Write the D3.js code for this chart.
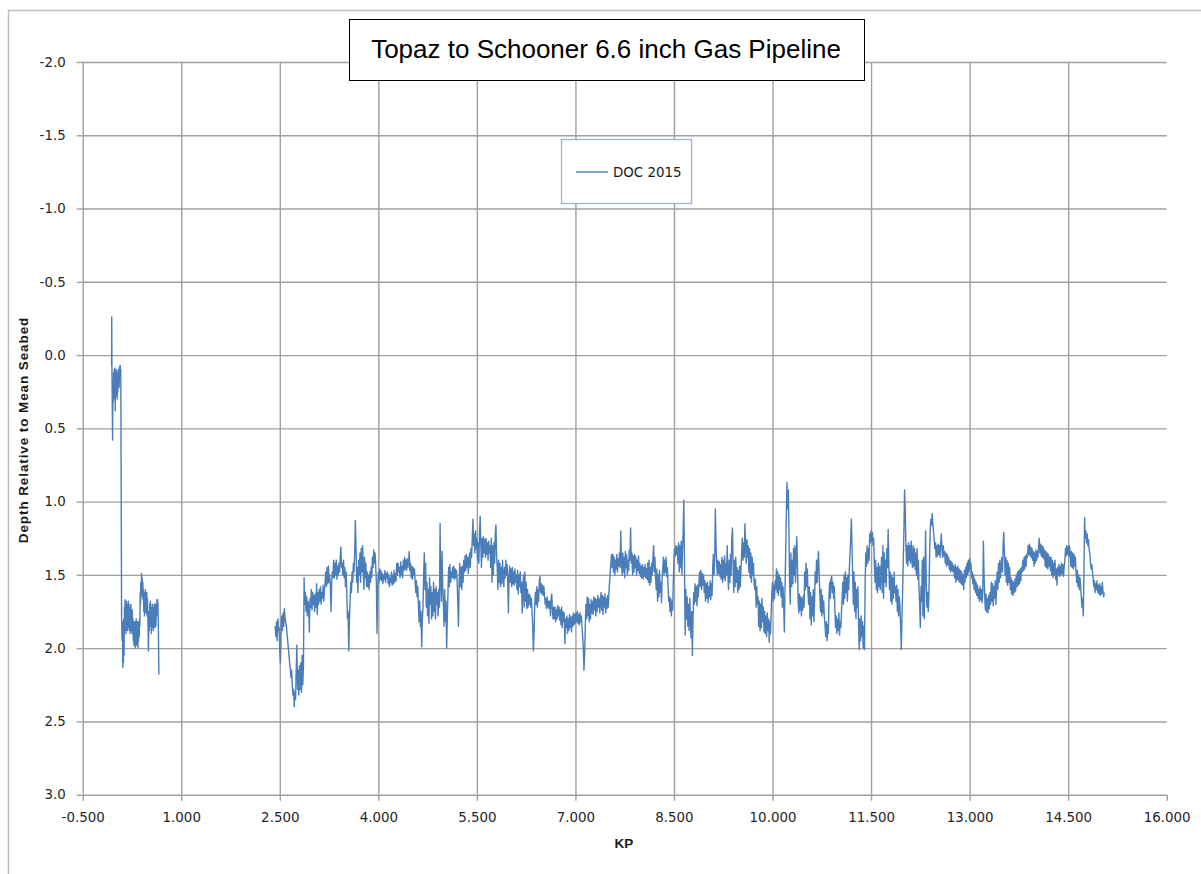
<!DOCTYPE html>
<html>
<head>
<meta charset="utf-8">
<script src="https://cdn.jsdelivr.net/npm/d3@7"></script>
<style>
  body { margin: 0; background: #fff; }
  svg { display: block; font-family: "Liberation Sans", Arial, sans-serif; }
</style>
</head>
<body>
<div id="chart"></div>
<script>
const titleText = "Topaz to Schooner 6.6 inch Gas Pipeline";
const seriesName = "DOC 2015";
const xTicks = [-0.5, 1, 2.5, 4, 5.5, 7, 8.5, 10, 11.5, 13, 14.5, 16];
const yTicks = [-2, -1.5, -1, -0.5, 0, 0.5, 1, 1.5, 2, 2.5, 3];

// [KP, depth] - shore end section
const docNear = [
  [-0.06,0.08],[-0.058,-0.26],[-0.055,0.10],[-0.05,0.35],[-0.045,0.58],[-0.04,0.20],[-0.035,0.32],[-0.03,0.12],
  [-0.025,0.30],[-0.02,0.10],[-0.015,0.25],[-0.01,0.09],[-0.005,0.38],[0,0.15],[0.005,0.28],[0.01,0.10],
  [0.015,0.22],[0.02,0.12],[0.025,0.30],[0.03,0.14],[0.035,0.25],[0.04,0.10],[0.045,0.20],[0.05,0.12],
  [0.055,0.22],[0.06,0.08],[0.065,0.15],[0.07,0.07],[0.075,0.12],[0.08,0.10],[0.085,0.83],[0.092,1.80],
  [0.10,1.95],[0.105,1.82],[0.11,2.13],[0.115,1.85],[0.12,2.10],[0.125,1.80],[0.13,2.05],[0.135,1.72],
  [0.14,1.88],[0.145,1.67],[0.15,1.85],[0.155,1.70],[0.16,1.90],[0.165,1.68],[0.17,1.84],[0.175,1.70],
  [0.18,1.88],[0.185,1.72],[0.19,1.86],[0.195,1.68],[0.20,1.82],[0.205,1.70],[0.21,1.88],[0.215,1.74],
  [0.22,1.90],[0.225,1.72],[0.23,1.85],[0.235,1.70],[0.24,1.88],[0.245,1.76],[0.25,1.90],[0.255,1.74],
  [0.26,1.86],[0.265,1.80],[0.27,1.95],[0.275,1.82],[0.28,1.98],[0.285,1.84],[0.29,1.96],[0.295,1.82],
  [0.30,2.00],[0.305,1.85],[0.31,1.95],[0.315,1.80],[0.32,1.98],[0.325,1.84],[0.33,1.92],[0.335,1.82],
  [0.34,2.00],[0.345,1.86],[0.35,1.95],[0.355,1.82],[0.36,1.92],[0.365,1.80],[0.37,1.85],[0.375,1.62],
  [0.38,1.70],[0.385,1.55],[0.39,1.64],[0.395,1.49],[0.40,1.60],[0.405,1.52],[0.41,1.66],[0.415,1.55],
  [0.42,1.67],[0.425,1.60],[0.43,1.75],[0.435,1.62],[0.44,1.78],[0.445,1.64],[0.45,1.72],[0.455,1.60],
  [0.46,1.76],[0.465,1.63],[0.47,1.70],[0.475,1.62],[0.48,1.78],[0.485,1.66],[0.49,1.75],[0.495,1.85],
  [0.50,2.02],[0.505,1.88],[0.51,1.75],[0.515,1.88],[0.52,1.70],[0.525,1.85],[0.53,1.68],[0.535,1.82],
  [0.54,1.72],[0.545,1.90],[0.55,1.74],[0.555,1.86],[0.56,1.70],[0.565,1.84],[0.57,1.72],[0.575,1.88],
  [0.58,1.75],[0.585,1.82],[0.59,1.70],[0.595,1.86],[0.60,1.74],[0.605,1.80],[0.61,1.70],[0.615,1.85],
  [0.62,1.72],[0.625,1.78],[0.63,1.67],[0.635,1.72],[0.64,1.67],[0.645,1.70],[0.65,1.80],[0.655,2.00],
  [0.66,2.18]
];

// [KP, depth] - main section after the gap
const docMain = [
  [2.43,1.85],[2.44,1.92],[2.45,1.82],[2.46,1.95],[2.47,1.80],[2.48,1.88],[2.49,1.86],[2.50,2.02],[2.51,2.10],[2.52,1.90],
  [2.53,1.78],[2.54,1.88],[2.55,1.76],[2.56,1.85],[2.57,1.73],[2.58,1.80],[2.60,1.85],[2.65,2.10],[2.66,2.14],[2.67,2.20],
  [2.68,2.15],[2.69,2.25],[2.70,2.32],[2.71,2.28],[2.72,2.40],[2.73,2.30],[2.74,2.35],[2.75,2.15],[2.76,1.98],[2.77,2.28],
  [2.78,2.15],[2.79,2.32],[2.80,2.12],[2.81,2.28],[2.82,2.10],[2.83,2.30],[2.84,2.05],[2.85,2.25],[2.86,2.12],[2.87,1.52],
  [2.88,1.70],[2.89,1.62],[2.90,1.75],[2.91,1.65],[2.92,1.78],[2.93,1.68],[2.94,1.72],[2.95,1.89],[2.96,1.66],[2.97,1.72],
  [2.98,1.60],[2.99,1.74],[3.00,1.62],[3.01,1.70],[3.02,1.64],[3.03,1.75],[3.04,1.63],[3.05,1.72],[3.06,1.56],[3.07,1.77],
  [3.08,1.62],[3.09,1.70],[3.10,1.60],[3.11,1.68],[3.12,1.58],[3.13,1.70],[3.14,1.62],[3.15,1.66],[3.16,1.57],[3.17,1.68],
  [3.18,1.60],[3.19,1.55],[3.20,1.48],[3.21,1.58],[3.22,1.45],[3.23,1.56],[3.24,1.44],[3.25,1.55],[3.26,1.50],[3.27,1.58],
  [3.28,1.75],[3.29,1.55],[3.30,1.48],[3.31,1.52],[3.32,1.40],[3.33,1.52],[3.34,1.42],[3.35,1.50],[3.36,1.40],[3.37,1.53],
  [3.38,1.44],[3.39,1.50],[3.40,1.42],[3.41,1.48],[3.42,1.38],[3.43,1.31],[3.44,1.45],[3.45,1.42],[3.46,1.50],[3.47,1.40],
  [3.48,1.52],[3.49,1.45],[3.50,1.58],[3.51,1.48],[3.52,1.62],[3.53,1.80],[3.54,1.75],[3.55,2.02],[3.56,1.80],[3.57,1.68],
  [3.58,1.55],[3.59,1.62],[3.60,1.48],[3.61,1.55],[3.62,1.42],[3.63,1.48],[3.64,1.35],[3.65,1.13],[3.66,1.30],[3.67,1.55],
  [3.68,1.45],[3.69,1.62],[3.70,1.40],[3.71,1.50],[3.72,1.35],[3.73,1.55],[3.74,1.32],[3.75,1.48],[3.76,1.30],[3.77,1.45],
  [3.78,1.60],[3.79,1.38],[3.80,1.52],[3.81,1.42],[3.82,1.58],[3.83,1.48],[3.84,1.58],[3.85,1.50],[3.86,1.60],[3.87,1.48],
  [3.88,1.55],[3.89,1.45],[3.90,1.52],[3.91,1.38],[3.92,1.45],[3.93,1.33],[3.94,1.42],[3.95,1.35],[3.96,1.44],[3.97,1.55],
  [3.98,1.90],[3.99,1.60],[4.00,1.48],[4.01,1.55],[4.02,1.46],[4.03,1.53],[4.04,1.47],[4.05,1.54],[4.06,1.49],[4.07,1.56],
  [4.08,1.50],[4.09,1.53],[4.10,1.47],[4.11,1.55],[4.12,1.49],[4.13,1.52],[4.14,1.48],[4.15,1.56],[4.16,1.50],[4.17,1.58],
  [4.18,1.52],[4.19,1.55],[4.20,1.48],[4.21,1.57],[4.22,1.50],[4.23,1.56],[4.24,1.47],[4.25,1.55],[4.26,1.49],[4.27,1.54],
  [4.28,1.42],[4.29,1.50],[4.30,1.42],[4.31,1.48],[4.32,1.45],[4.33,1.52],[4.34,1.41],[4.35,1.50],[4.36,1.44],[4.37,1.52],
  [4.38,1.40],[4.39,1.47],[4.40,1.38],[4.41,1.46],[4.42,1.40],[4.43,1.47],[4.44,1.39],[4.45,1.45],[4.46,1.42],[4.47,1.34],
  [4.48,1.47],[4.49,1.42],[4.50,1.52],[4.51,1.44],[4.52,1.53],[4.53,1.45],[4.54,1.50],[4.55,1.46],[4.56,1.55],[4.57,1.62],
  [4.58,1.54],[4.59,1.65],[4.60,1.58],[4.61,1.70],[4.62,1.82],[4.63,1.68],[4.64,1.85],[4.65,1.75],[4.66,1.99],[4.67,1.80],
  [4.68,1.72],[4.69,1.48],[4.70,1.35],[4.71,1.60],[4.72,1.42],[4.73,1.72],[4.74,1.55],[4.75,1.78],[4.76,1.60],[4.77,1.83],
  [4.78,1.52],[4.79,1.70],[4.80,1.58],[4.81,1.80],[4.82,1.62],[4.83,1.78],[4.84,1.55],[4.85,1.75],[4.86,1.60],[4.87,1.80],
  [4.88,1.58],[4.89,1.70],[4.90,1.62],[4.91,1.78],[4.92,1.60],[4.93,1.72],[4.94,1.15],[4.95,1.55],[4.96,1.68],[4.97,1.34],
  [4.98,1.58],[4.99,1.70],[5.00,1.85],[5.01,1.60],[5.02,1.82],[5.03,1.68],[5.04,2.00],[5.05,1.80],[5.06,1.62],[5.07,1.45],
  [5.08,1.58],[5.09,1.43],[5.10,1.55],[5.11,1.48],[5.12,1.52],[5.13,1.45],[5.14,1.52],[5.15,1.44],[5.16,1.53],[5.17,1.46],
  [5.18,1.52],[5.19,1.47],[5.20,1.55],[5.21,1.70],[5.22,1.85],[5.23,1.55],[5.24,1.42],[5.25,1.58],[5.26,1.45],[5.27,1.60],
  [5.28,1.44],[5.29,1.55],[5.30,1.40],[5.31,1.48],[5.32,1.37],[5.33,1.47],[5.34,1.36],[5.35,1.45],[5.36,1.38],[5.37,1.49],
  [5.38,1.40],[5.39,1.35],[5.40,1.45],[5.41,1.32],[5.42,1.38],[5.43,1.25],[5.44,1.12],[5.45,1.30],[5.46,1.22],[5.47,1.35],
  [5.48,1.20],[5.49,1.32],[5.50,1.25],[5.51,1.40],[5.52,1.28],[5.53,1.42],[5.54,1.22],[5.55,1.10],[5.56,1.30],[5.57,1.45],
  [5.58,1.25],[5.59,1.38],[5.60,1.24],[5.61,1.35],[5.62,1.26],[5.63,1.38],[5.64,1.25],[5.65,1.36],[5.66,1.28],[5.67,1.40],
  [5.68,1.27],[5.69,1.35],[5.70,1.30],[5.71,1.45],[5.72,1.25],[5.73,1.55],[5.74,1.30],[5.75,1.50],[5.76,1.28],[5.77,1.42],
  [5.78,1.22],[5.79,1.16],[5.80,1.38],[5.81,1.45],[5.82,1.60],[5.83,1.40],[5.84,1.55],[5.85,1.42],[5.86,1.58],[5.87,1.45],
  [5.88,1.56],[5.89,1.40],[5.90,1.52],[5.91,1.58],[5.92,1.45],[5.93,1.52],[5.94,1.40],[5.95,1.50],[5.96,1.43],[5.97,1.55],
  [5.98,1.76],[5.99,1.50],[6.00,1.44],[6.01,1.55],[6.02,1.46],[6.03,1.58],[6.04,1.45],[6.05,1.56],[6.06,1.48],[6.07,1.57],
  [6.08,1.46],[6.09,1.55],[6.10,1.50],[6.11,1.60],[6.12,1.47],[6.13,1.63],[6.14,1.50],[6.15,1.58],[6.16,1.48],[6.17,1.62],
  [6.18,1.55],[6.19,1.76],[6.20,1.58],[6.21,1.50],[6.22,1.72],[6.23,1.48],[6.24,1.68],[6.25,1.55],[6.26,1.73],[6.27,1.60],
  [6.28,1.72],[6.29,1.63],[6.30,1.70],[6.31,1.64],[6.32,1.72],[6.33,1.66],[6.34,1.75],[6.35,1.85],[6.36,2.02],[6.37,1.90],
  [6.38,1.72],[6.39,1.62],[6.40,1.70],[6.41,1.58],[6.42,1.72],[6.43,1.60],[6.44,1.68],[6.45,1.55],[6.46,1.51],[6.47,1.62],
  [6.48,1.56],[6.49,1.63],[6.50,1.57],[6.51,1.64],[6.52,1.58],[6.53,1.65],[6.54,1.70],[6.55,1.66],[6.56,1.73],[6.57,1.65],
  [6.58,1.72],[6.59,1.68],[6.60,1.73],[6.61,1.68],[6.62,1.78],[6.63,1.66],[6.64,1.63],[6.65,1.75],[6.66,1.80],[6.67,1.72],
  [6.68,1.80],[6.69,1.72],[6.70,1.82],[6.71,1.74],[6.72,1.80],[6.73,1.71],[6.74,1.78],[6.75,1.72],[6.76,1.81],[6.77,1.74],
  [6.78,1.84],[6.79,1.72],[6.80,1.86],[6.81,1.75],[6.82,1.82],[6.83,1.76],[6.84,1.97],[6.85,1.80],[6.86,1.86],[6.87,1.78],
  [6.88,1.90],[6.89,1.80],[6.90,1.88],[6.91,1.77],[6.92,1.86],[6.93,1.79],[6.94,1.89],[6.95,1.78],[6.96,1.85],[6.97,1.76],
  [6.98,1.84],[6.99,1.77],[7.00,1.83],[7.01,1.76],[7.02,1.82],[7.03,1.75],[7.04,1.83],[7.05,1.77],[7.06,1.84],[7.07,1.76],
  [7.08,1.82],[7.09,1.78],[7.10,1.85],[7.11,1.92],[7.12,2.00],[7.13,2.15],[7.14,2.05],[7.15,1.85],[7.16,1.70],[7.17,1.80],
  [7.18,1.65],[7.19,1.78],[7.20,1.66],[7.21,1.82],[7.22,1.70],[7.23,1.80],[7.24,1.67],[7.25,1.76],[7.26,1.68],[7.27,1.77],
  [7.28,1.65],[7.29,1.74],[7.30,1.66],[7.31,1.78],[7.32,1.67],[7.33,1.75],[7.34,1.64],[7.35,1.72],[7.36,1.66],[7.37,1.76],
  [7.38,1.68],[7.39,1.62],[7.40,1.74],[7.41,1.64],[7.42,1.77],[7.43,1.65],[7.44,1.72],[7.45,1.63],[7.46,1.76],[7.47,1.66],
  [7.48,1.73],[7.49,1.64],[7.50,1.72],[7.51,1.62],[7.52,1.55],[7.53,1.48],[7.54,1.42],[7.55,1.36],[7.56,1.45],[7.57,1.36],
  [7.58,1.48],[7.59,1.38],[7.60,1.50],[7.61,1.40],[7.62,1.46],[7.63,1.36],[7.64,1.48],[7.65,1.39],[7.66,1.44],[7.67,1.35],
  [7.68,1.45],[7.69,1.20],[7.70,1.40],[7.71,1.50],[7.72,1.35],[7.73,1.48],[7.74,1.38],[7.75,1.52],[7.76,1.34],[7.77,1.45],
  [7.78,1.36],[7.79,1.50],[7.80,1.40],[7.81,1.47],[7.82,1.33],[7.83,1.40],[7.84,1.18],[7.85,1.42],[7.86,1.35],[7.87,1.50],
  [7.88,1.37],[7.89,1.48],[7.90,1.36],[7.91,1.45],[7.92,1.38],[7.93,1.50],[7.94,1.40],[7.95,1.47],[7.96,1.37],[7.97,1.49],
  [7.98,1.42],[7.99,1.51],[8.00,1.44],[8.01,1.52],[8.02,1.43],[8.03,1.53],[8.04,1.45],[8.05,1.51],[8.06,1.43],[8.07,1.52],
  [8.08,1.46],[8.09,1.53],[8.10,1.42],[8.11,1.55],[8.12,1.40],[8.13,1.57],[8.14,1.45],[8.15,1.55],[8.16,1.42],[8.17,1.50],
  [8.18,1.38],[8.19,1.30],[8.20,1.48],[8.21,1.38],[8.22,1.52],[8.23,1.60],[8.24,1.46],[8.25,1.68],[8.26,1.50],[8.27,1.65],
  [8.28,1.47],[8.29,1.62],[8.30,1.55],[8.31,1.69],[8.32,1.52],[8.33,1.45],[8.34,1.38],[8.35,1.50],[8.36,1.40],[8.37,1.48],
  [8.38,1.38],[8.39,1.51],[8.40,1.45],[8.41,1.58],[8.42,1.68],[8.43,1.65],[8.44,1.75],[8.45,1.66],[8.46,1.78],[8.47,1.68],
  [8.48,1.74],[8.49,1.55],[8.50,1.38],[8.51,1.32],[8.52,1.37],[8.53,1.30],[8.54,1.36],[8.55,1.31],[8.56,1.42],[8.57,1.28],
  [8.58,1.48],[8.59,1.30],[8.60,1.45],[8.61,1.27],[8.62,1.50],[8.63,1.32],[8.64,1.20],[8.65,0.99],[8.66,1.45],[8.67,1.91],
  [8.68,1.60],[8.69,1.80],[8.70,1.65],[8.71,1.85],[8.72,1.70],[8.73,1.88],[8.74,1.66],[8.75,1.80],[8.76,1.93],[8.77,1.75],
  [8.78,2.05],[8.79,1.80],[8.80,1.62],[8.81,1.70],[8.82,1.56],[8.83,1.68],[8.84,1.58],[8.85,1.71],[8.86,1.57],[8.87,1.65],
  [8.88,1.55],[8.89,1.48],[8.90,1.58],[8.91,1.47],[8.92,1.60],[8.93,1.49],[8.94,1.57],[8.95,1.50],[8.96,1.62],[8.97,1.54],
  [8.98,1.68],[8.99,1.56],[9.00,1.66],[9.01,1.55],[9.02,1.69],[9.03,1.58],[9.04,1.65],[9.05,1.54],[9.06,1.67],[9.07,1.56],
  [9.08,1.64],[9.09,1.45],[9.10,1.36],[9.11,1.50],[9.12,1.38],[9.13,1.05],[9.14,1.30],[9.15,1.42],[9.16,1.50],[9.17,1.40],
  [9.18,1.49],[9.19,1.41],[9.20,1.51],[9.21,1.43],[9.22,1.53],[9.23,1.38],[9.24,1.55],[9.25,1.40],[9.26,1.52],[9.27,1.37],
  [9.28,1.54],[9.29,1.42],[9.30,1.50],[9.31,1.30],[9.32,1.48],[9.33,1.60],[9.34,1.40],[9.35,1.55],[9.36,1.36],[9.37,1.50],
  [9.38,1.25],[9.39,1.18],[9.40,1.42],[9.41,1.62],[9.42,1.40],[9.43,1.58],[9.44,1.38],[9.45,1.55],[9.46,1.45],[9.47,1.62],
  [9.48,1.47],[9.49,1.60],[9.50,1.44],[9.51,1.58],[9.52,1.46],[9.53,1.35],[9.54,1.25],[9.55,1.40],[9.56,1.28],[9.57,1.38],
  [9.58,1.15],[9.59,1.30],[9.60,1.42],[9.61,1.26],[9.62,1.38],[9.63,1.30],[9.64,1.48],[9.65,1.32],[9.66,1.52],[9.67,1.35],
  [9.68,1.55],[9.69,1.38],[9.70,1.50],[9.71,1.42],[9.72,1.55],[9.73,1.60],[9.74,1.53],[9.75,1.72],[9.76,1.58],[9.77,1.70],
  [9.78,1.65],[9.79,1.85],[9.80,1.68],[9.81,1.88],[9.82,1.70],[9.83,1.86],[9.84,1.66],[9.85,1.82],[9.86,1.72],[9.87,1.89],
  [9.88,1.75],[9.89,1.90],[9.90,1.78],[9.91,1.92],[9.92,1.76],[9.93,1.88],[9.94,1.80],[9.95,1.96],[9.96,1.82],[9.97,1.90],
  [9.98,1.75],[9.99,1.62],[10.00,1.55],[10.01,1.68],[10.02,1.57],[10.03,1.66],[10.04,1.54],[10.05,1.60],[10.06,1.46],[10.07,1.62],
  [10.08,1.48],[10.09,1.64],[10.10,1.50],[10.11,1.60],[10.12,1.52],[10.13,1.65],[10.14,1.55],[10.15,1.72],[10.16,1.58],[10.17,1.70],
  [10.18,1.89],[10.19,1.60],[10.20,1.35],[10.21,1.10],[10.22,0.87],[10.23,1.05],[10.24,0.92],[10.25,1.20],[10.26,1.55],[10.27,1.70],
  [10.28,1.35],[10.29,1.58],[10.30,1.40],[10.31,1.56],[10.32,1.32],[10.33,1.50],[10.34,1.30],[10.35,1.55],[10.36,1.38],[10.37,1.24],
  [10.38,1.45],[10.39,1.68],[10.40,1.76],[10.41,1.63],[10.42,1.74],[10.43,1.65],[10.44,1.78],[10.45,1.66],[10.46,1.74],[10.47,1.64],
  [10.48,1.72],[10.49,1.48],[10.50,1.60],[10.51,1.42],[10.52,1.58],[10.53,1.46],[10.54,1.62],[10.55,1.70],[10.56,1.58],[10.57,1.80],
  [10.58,1.62],[10.59,1.84],[10.60,1.65],[10.61,1.78],[10.62,1.60],[10.63,1.82],[10.64,1.68],[10.65,1.48],[10.66,1.56],[10.67,1.40],
  [10.68,1.55],[10.69,1.42],[10.70,1.34],[10.71,1.50],[10.72,1.62],[10.73,1.75],[10.74,1.60],[10.75,1.78],[10.76,1.64],[10.77,1.76],
  [10.78,1.68],[10.79,1.80],[10.80,1.85],[10.81,1.92],[10.82,1.82],[10.83,1.95],[10.84,1.84],[10.85,1.90],[10.86,1.64],[10.87,1.55],
  [10.88,1.66],[10.89,1.53],[10.90,1.51],[10.91,1.62],[10.92,1.55],[10.93,1.66],[10.94,1.58],[10.95,1.75],[10.96,1.86],[10.97,1.78],
  [10.98,1.90],[10.99,1.80],[11.00,1.88],[11.01,1.76],[11.02,1.91],[11.03,1.82],[11.04,1.86],[11.05,1.75],[11.06,1.65],[11.07,1.55],
  [11.08,1.70],[11.09,1.50],[11.10,1.66],[11.11,1.48],[11.12,1.62],[11.13,1.52],[11.14,1.68],[11.15,1.50],[11.16,1.60],[11.17,1.45],
  [11.18,1.35],[11.19,1.25],[11.20,1.12],[11.21,1.30],[11.22,1.50],[11.23,1.70],[11.24,1.48],[11.25,1.75],[11.26,1.55],[11.27,1.80],
  [11.28,1.60],[11.29,1.72],[11.30,1.58],[11.31,1.85],[11.32,2.01],[11.33,1.80],[11.34,1.95],[11.35,1.78],[11.36,1.92],[11.37,1.82],
  [11.38,2.00],[11.39,1.85],[11.40,2.01],[11.41,1.55],[11.42,1.35],[11.43,1.44],[11.44,1.30],[11.45,1.42],[11.46,1.32],[11.47,1.40],
  [11.48,1.22],[11.49,1.28],[11.50,1.20],[11.51,1.27],[11.52,1.21],[11.53,1.30],[11.54,1.25],[11.55,1.42],[11.56,1.55],[11.57,1.40],
  [11.58,1.60],[11.59,1.45],[11.60,1.62],[11.61,1.42],[11.62,1.58],[11.63,1.44],[11.64,1.60],[11.65,1.48],[11.66,1.38],[11.67,1.62],
  [11.68,1.30],[11.69,1.66],[11.70,1.35],[11.71,1.55],[11.72,1.40],[11.73,1.58],[11.74,1.32],[11.75,1.45],[11.76,1.19],[11.77,1.40],
  [11.78,1.60],[11.79,1.48],[11.80,1.68],[11.81,1.50],[11.82,1.70],[11.83,1.52],[11.84,1.66],[11.85,1.48],[11.86,1.62],[11.87,1.58],
  [11.88,1.68],[11.89,1.57],[11.90,1.75],[11.91,1.60],[11.92,1.78],[11.93,1.65],[11.94,1.72],[11.95,1.85],[11.96,2.01],[11.97,1.80],
  [11.98,1.62],[11.99,1.40],[12.00,1.20],[12.01,0.92],[12.02,1.05],[12.03,1.30],[12.04,1.42],[12.05,1.30],[12.06,1.44],[12.07,1.28],
  [12.08,1.40],[12.09,1.30],[12.10,1.42],[12.11,1.27],[12.12,1.38],[12.13,1.45],[12.14,1.30],[12.15,1.44],[12.16,1.32],[12.17,1.46],
  [12.18,1.35],[12.19,1.50],[12.20,1.32],[12.21,1.53],[12.22,1.40],[12.23,1.60],[12.24,1.70],[12.25,1.86],[12.26,1.58],[12.27,1.68],
  [12.28,1.40],[12.29,1.78],[12.30,1.38],[12.31,1.80],[12.32,1.50],[12.33,1.20],[12.34,1.55],[12.35,1.72],[12.36,1.62],[12.37,1.75],
  [12.38,1.65],[12.39,1.40],[12.40,1.20],[12.41,1.12],[12.42,1.16],[12.43,1.08],[12.44,1.15],[12.45,1.20],[12.46,1.25],[12.47,1.32],
  [12.48,1.28],[12.49,1.38],[12.50,1.30],[12.51,1.37],[12.52,1.29],[12.53,1.36],[12.54,1.30],[12.55,1.38],[12.56,1.28],[12.57,1.22],
  [12.58,1.33],[12.59,1.38],[12.60,1.30],[12.61,1.37],[12.62,1.34],[12.63,1.42],[12.64,1.35],[12.65,1.44],[12.66,1.36],[12.67,1.43],
  [12.68,1.38],[12.69,1.46],[12.70,1.40],[12.71,1.48],[12.72,1.41],[12.73,1.47],[12.74,1.42],[12.75,1.48],[12.76,1.44],[12.77,1.52],
  [12.78,1.43],[12.79,1.55],[12.80,1.45],[12.81,1.53],[12.82,1.44],[12.83,1.54],[12.84,1.46],[12.85,1.55],[12.86,1.47],[12.87,1.56],
  [12.88,1.48],[12.89,1.57],[12.90,1.50],[12.91,1.60],[12.92,1.47],[12.93,1.55],[12.94,1.45],[12.95,1.52],[12.96,1.42],[12.97,1.50],
  [12.98,1.40],[12.99,1.48],[13.00,1.39],[13.01,1.46],[13.02,1.42],[13.03,1.52],[13.04,1.48],[13.05,1.56],[13.06,1.50],[13.07,1.60],
  [13.08,1.53],[13.09,1.62],[13.10,1.55],[13.11,1.64],[13.12,1.57],[13.13,1.66],[13.14,1.60],[13.15,1.68],[13.16,1.58],[13.17,1.67],
  [13.18,1.60],[13.19,1.69],[13.20,1.62],[13.21,1.27],[13.22,1.50],[13.23,1.65],[13.24,1.74],[13.25,1.63],[13.26,1.75],[13.27,1.66],
  [13.28,1.76],[13.29,1.64],[13.30,1.73],[13.31,1.62],[13.32,1.70],[13.33,1.55],[13.34,1.68],[13.35,1.56],[13.36,1.71],[13.37,1.58],
  [13.38,1.66],[13.39,1.54],[13.40,1.70],[13.41,1.58],[13.42,1.48],[13.43,1.60],[13.44,1.42],[13.45,1.55],[13.46,1.40],[13.47,1.52],
  [13.48,1.45],[13.49,1.38],[13.50,1.48],[13.51,1.30],[13.52,1.21],[13.53,1.35],[13.54,1.50],[13.55,1.38],[13.56,1.55],[13.57,1.40],
  [13.58,1.57],[13.59,1.42],[13.60,1.55],[13.61,1.45],[13.62,1.60],[13.63,1.52],[13.64,1.63],[13.65,1.54],[13.66,1.64],[13.67,1.55],
  [13.68,1.62],[13.69,1.53],[13.70,1.61],[13.71,1.50],[13.72,1.58],[13.73,1.48],[13.74,1.57],[13.75,1.47],[13.76,1.56],[13.77,1.46],
  [13.78,1.54],[13.79,1.45],[13.80,1.48],[13.81,1.40],[13.82,1.47],[13.83,1.38],[13.84,1.46],[13.85,1.37],[13.86,1.44],[13.87,1.36],
  [13.88,1.38],[13.89,1.30],[13.90,1.36],[13.91,1.29],[13.92,1.37],[13.93,1.31],[13.94,1.38],[13.95,1.32],[13.96,1.40],[13.97,1.34],
  [13.98,1.44],[13.99,1.35],[14.00,1.42],[14.01,1.33],[14.02,1.40],[14.03,1.34],[14.04,1.38],[14.05,1.30],[14.06,1.25],[14.07,1.35],
  [14.08,1.29],[14.09,1.37],[14.10,1.30],[14.11,1.38],[14.12,1.31],[14.13,1.39],[14.14,1.33],[14.15,1.44],[14.16,1.34],[14.17,1.45],
  [14.18,1.35],[14.19,1.46],[14.20,1.36],[14.21,1.44],[14.22,1.38],[14.23,1.47],[14.24,1.38],[14.25,1.50],[14.26,1.40],[14.27,1.52],
  [14.28,1.42],[14.29,1.50],[14.30,1.40],[14.31,1.53],[14.32,1.46],[14.33,1.57],[14.34,1.45],[14.35,1.50],[14.36,1.43],[14.37,1.51],
  [14.38,1.44],[14.39,1.50],[14.40,1.42],[14.41,1.49],[14.42,1.43],[14.43,1.51],[14.44,1.44],[14.45,1.40],[14.46,1.32],[14.47,1.37],
  [14.48,1.30],[14.49,1.36],[14.50,1.31],[14.51,1.37],[14.52,1.30],[14.53,1.36],[14.54,1.44],[14.55,1.34],[14.56,1.45],[14.57,1.35],
  [14.58,1.46],[14.59,1.36],[14.60,1.44],[14.61,1.38],[14.62,1.48],[14.63,1.55],[14.64,1.47],[14.65,1.58],[14.66,1.50],[14.67,1.60],
  [14.68,1.52],[14.69,1.58],[14.70,1.65],[14.71,1.72],[14.72,1.66],[14.73,1.78],[14.74,1.50],[14.75,1.11],[14.76,1.25],[14.77,1.20],
  [14.78,1.28],[14.79,1.22],[14.80,1.30],[14.81,1.26],[14.82,1.33],[14.83,1.35],[14.84,1.42],[14.85,1.46],[14.86,1.43],[14.87,1.48],
  [14.88,1.52],[14.89,1.58],[14.90,1.54],[14.91,1.62],[14.92,1.56],[14.93,1.60],[14.94,1.54],[14.95,1.62],[14.96,1.57],[14.97,1.63],
  [14.98,1.56],[14.99,1.64],[15.00,1.58],[15.01,1.63],[15.02,1.55],[15.03,1.61],[15.04,1.65],[15.05,1.62]
];

const width = 1201, height = 874;
const plot = { left: 82.7, right: 1166.7, top: 62, bottom: 794.7 };
const plotW = plot.right - plot.left, plotH = plot.bottom - plot.top;

const svg = d3.select('#chart').append('svg')
    .attr('width', width)
    .attr('height', height);

svg.append('rect').attr('width', width).attr('height', height).attr('fill', '#fff');

// outer chart frame (cropped on the right and bottom)
svg.append('path')
    .attr('d', 'M8.5,874 V10.5 H1201')
    .attr('fill', 'none')
    .attr('stroke', '#bfbfbf')
    .attr('stroke-width', 1.5);

const xScale = d3.scaleLinear().domain([-0.5, 16]).range([plot.left, plot.right]);
const yScale = d3.scaleLinear().domain([-2, 3]).range([plot.top, plot.bottom]);

// gridlines
const yGrid = svg.append('g')
    .attr('transform', 'translate(' + plot.left + ',0)')
    .call(d3.axisLeft(yScale).tickValues(yTicks).tickSize(-plotW).tickFormat(''));
const xGrid = svg.append('g')
    .attr('transform', 'translate(0,' + plot.bottom + ')')
    .call(d3.axisBottom(xScale).tickValues(xTicks.slice(0, -1)).tickSize(-plotH).tickFormat(''));
[yGrid, xGrid].forEach(g => {
  g.select('.domain').remove();
  g.selectAll('line').attr('stroke', '#a0a0a0').attr('stroke-width', 1.4);
});

// axes: short tick marks and labels
const yAxis = svg.append('g')
    .attr('transform', 'translate(' + plot.left + ',0)')
    .call(d3.axisLeft(yScale).tickValues(yTicks).tickSize(6).tickPadding(11)
      .tickFormat(d => d.toFixed(1)));
const xAxis = svg.append('g')
    .attr('transform', 'translate(0,' + plot.bottom + ')')
    .call(d3.axisBottom(xScale).tickValues(xTicks).tickSize(6).tickPadding(12)
      .tickFormat(d => d.toFixed(3)));
[yAxis, xAxis].forEach(g => {
  g.select('.domain').remove();
  g.selectAll('line').attr('stroke', '#a0a0a0').attr('stroke-width', 1.4);
  g.selectAll('text')
    .attr('font-family', '"DejaVu Sans", Verdana, sans-serif')
    .attr('font-size', 13.4)
    .attr('fill', '#262626');
});

// series
const line = d3.line()
    .x(d => xScale(d[0]))
    .y(d => yScale(d[1]));

[docNear, docMain].forEach(part => {
  svg.append('path')
      .attr('d', line(part))
      .attr('fill', 'none')
      .attr('stroke', '#4a7ebb')
      .attr('stroke-width', 1.4)
      .attr('stroke-linejoin', 'round');
});

// axis titles
svg.append('text')
    .attr('transform', 'translate(28,430) rotate(-90)')
    .attr('text-anchor', 'middle')
    .attr('font-size', 13.5)
    .attr('font-weight', 'bold')
    .attr('letter-spacing', 0.9)
    .attr('fill', '#1a1a1a')
    .text('Depth Relative to Mean Seabed');

svg.append('text')
    .attr('x', 624)
    .attr('y', 848)
    .attr('text-anchor', 'middle')
    .attr('font-size', 13.5)
    .attr('font-weight', 'bold')
    .attr('fill', '#1a1a1a')
    .text('KP');

// title box
svg.append('rect')
    .attr('x', 349.5).attr('y', 19.5)
    .attr('width', 515).attr('height', 61)
    .attr('fill', '#fff')
    .attr('stroke', '#000')
    .attr('stroke-width', 1);
svg.append('text')
    .attr('x', 606)
    .attr('y', 58)
    .attr('text-anchor', 'middle')
    .attr('font-size', 26)
    .attr('fill', '#000')
    .text(titleText);

// legend
svg.append('rect')
    .attr('x', 561.5).attr('y', 139.5)
    .attr('width', 130).attr('height', 64)
    .attr('fill', '#fff')
    .attr('stroke', '#9bb5d8')
    .attr('stroke-width', 1.3);
svg.append('line')
    .attr('x1', 576).attr('x2', 608)
    .attr('y1', 172).attr('y2', 172)
    .attr('stroke', '#4a7ebb')
    .attr('stroke-width', 1.4);
svg.append('text')
    .attr('x', 613)
    .attr('y', 177)
    .attr('font-family', '"DejaVu Sans", Verdana, sans-serif')
    .attr('font-size', 13.4)
    .attr('fill', '#1a1a1a')
    .text(seriesName);
</script>
</body>
</html>
